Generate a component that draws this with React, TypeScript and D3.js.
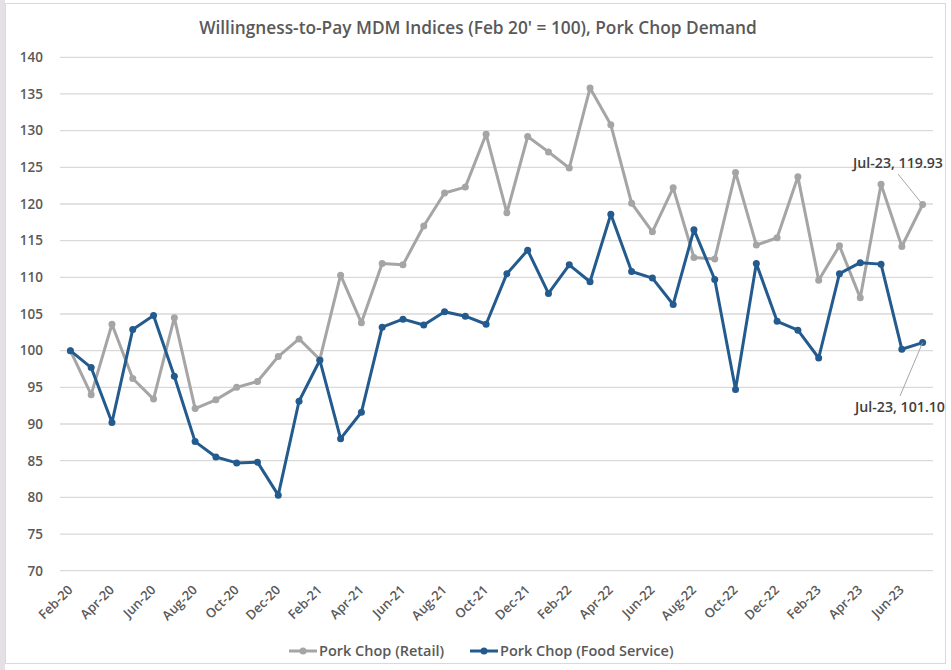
import React, { useEffect, useRef } from 'react';
import * as d3 from 'd3';

const months = [
  'Feb-20', 'Mar-20', 'Apr-20', 'May-20', 'Jun-20', 'Jul-20', 'Aug-20', 'Sep-20', 'Oct-20', 'Nov-20', 'Dec-20', 'Jan-21',
  'Feb-21', 'Mar-21', 'Apr-21', 'May-21', 'Jun-21', 'Jul-21', 'Aug-21', 'Sep-21', 'Oct-21', 'Nov-21', 'Dec-21', 'Jan-22',
  'Feb-22', 'Mar-22', 'Apr-22', 'May-22', 'Jun-22', 'Jul-22', 'Aug-22', 'Sep-22', 'Oct-22', 'Nov-22', 'Dec-22', 'Jan-23',
  'Feb-23', 'Mar-23', 'Apr-23', 'May-23', 'Jun-23', 'Jul-23',
];

const retail = [
  100, 94.0, 103.6, 96.2, 93.4, 104.5, 92.1, 93.3, 95.0, 95.8, 99.2, 101.6,
  98.8, 110.3, 103.8, 111.9, 111.7, 117.0, 121.5, 122.3, 129.5, 118.8, 129.2, 127.1,
  124.9, 135.8, 130.8, 120.1, 116.2, 122.2, 112.7, 112.5, 124.3, 114.4, 115.4, 123.7,
  109.6, 114.3, 107.2, 122.7, 114.2, 119.93,
];

const foodService = [
  100, 97.7, 90.2, 102.9, 104.8, 96.5, 87.6, 85.5, 84.7, 84.8, 80.3, 93.1,
  98.7, 88.0, 91.6, 103.2, 104.3, 103.5, 105.3, 104.7, 103.6, 110.5, 113.7, 107.8,
  111.7, 109.4, 118.6, 110.8, 109.9, 106.3, 116.5, 109.7, 94.7, 111.9, 104.0, 102.8,
  99.0, 110.5, 112.0, 111.8, 100.2, 101.1,
];

const yTicks = [70, 75, 80, 85, 90, 95, 100, 105, 110, 115, 120, 125, 130, 135, 140];

const seriesInfo = [
  { name: 'Pork Chop (Retail)', values: retail, color: '#a5a5a5' },
  { name: 'Pork Chop (Food Service)', values: foodService, color: '#235b8e' },
];

const W = 951;
const H = 670;
const font = "'Open Sans', sans-serif";
const textColor = '#595959';

export default function App() {
  const ref = useRef<SVGSVGElement>(null);

  useEffect(() => {
    const svg = d3.select(ref.current);
    svg.selectAll('*').remove();

    const left = 60;
    const right = 933;
    const x = d3.scaleBand<string>().domain(months).range([left, right]);
    const y = d3.scaleLinear().domain([70, 140]).range([570.7, 57.3]);
    const cx = (m: string) => (x(m) as number) + x.bandwidth() / 2;

    svg.append('rect').attr('x', 0).attr('y', 0).attr('width', W).attr('height', H).attr('fill', '#fff');
    svg.append('rect').attr('x', 0).attr('y', 0).attr('width', 5).attr('height', H).attr('fill', '#e4e0e6');
    svg.append('rect').attr('x', 5.5).attr('y', 3.5).attr('width', 940).attr('height', 660)
      .attr('fill', 'none').attr('stroke', '#d9d9d9');

    svg.append('text')
      .attr('x', 478).attr('y', 34)
      .attr('text-anchor', 'middle')
      .attr('font-family', font).attr('font-size', 17.3).attr('font-weight', 600)
      .attr('fill', textColor)
      .text("Willingness-to-Pay MDM Indices (Feb 20' = 100), Pork Chop Demand");

    // gridlines
    svg.append('g')
      .selectAll('line')
      .data(yTicks)
      .enter()
      .append('line')
      .attr('x1', left).attr('x2', right)
      .attr('y1', d => y(d)).attr('y2', d => y(d))
      .attr('stroke', '#d9d9d9').attr('stroke-width', 1.3);

    const yAxis = svg.append('g')
      .attr('transform', `translate(${left - 17}, 0)`)
      .call(d3.axisLeft(y).tickValues(yTicks).tickSize(0).tickPadding(0));
    yAxis.select('.domain').remove();
    yAxis.selectAll('text')
      .attr('font-family', font).attr('font-size', 13.5).attr('font-weight', 600)
      .attr('fill', textColor);

    const xAxis = svg.append('g')
      .attr('transform', `translate(0, ${y(70)})`)
      .call(d3.axisBottom(x).tickValues(months.filter((_, i) => i % 2 === 0)).tickSize(0).tickPadding(0));
    xAxis.select('.domain').remove();
    xAxis.selectAll('text')
      .attr('font-family', font).attr('font-size', 13).attr('font-weight', 600)
      .attr('fill', textColor)
      .attr('text-anchor', 'end')
      .attr('dy', 0)
      .attr('transform', 'translate(3, 20) rotate(-45)');

    const line = d3.line<number>()
      .x((_, i) => cx(months[i]))
      .y(d => y(d));

    seriesInfo.forEach(s => {
      const g = svg.append('g');
      g.append('path')
        .datum(s.values)
        .attr('d', line)
        .attr('fill', 'none')
        .attr('stroke', s.color)
        .attr('stroke-width', 3)
        .attr('stroke-linejoin', 'round');
      g.selectAll('circle')
        .data(s.values)
        .enter()
        .append('circle')
        .attr('cx', (_, i) => cx(months[i]))
        .attr('cy', d => y(d))
        .attr('r', 3.5)
        .attr('fill', s.color);
    });

    // end labels
    const last = months.length - 1;
    const lx = cx(months[last]);
    const labels = [
      { value: retail[last], tx: 898, ty: 168, lineFrom: [898, 174] },
      { value: foodService[last], tx: 900, ty: 412, lineFrom: [900, 396] },
    ];
    labels.forEach(l => {
      svg.append('line')
        .attr('x1', l.lineFrom[0]).attr('y1', l.lineFrom[1])
        .attr('x2', lx).attr('y2', y(l.value))
        .attr('stroke', '#a6a6a6').attr('stroke-width', 1);
      svg.append('text')
        .attr('x', l.tx).attr('y', l.ty)
        .attr('text-anchor', 'middle')
        .attr('font-family', font).attr('font-size', 14.2).attr('font-weight', 600)
        .attr('fill', '#404040')
        .text(`${months[last]}, ${l.value.toFixed(2)}`);
    });

    // legend
    const legendItems = [
      { ...seriesInfo[0], x: 289 },
      { ...seriesInfo[1], x: 470 },
    ];
    legendItems.forEach(item => {
      const g = svg.append('g').attr('transform', `translate(${item.x}, 651)`);
      g.append('line').attr('x1', 0).attr('x2', 28).attr('y1', 0).attr('y2', 0)
        .attr('stroke', item.color).attr('stroke-width', 3);
      g.append('circle').attr('cx', 14).attr('cy', 0).attr('r', 3.5).attr('fill', item.color);
      g.append('text').attr('x', 30).attr('y', 5)
        .attr('font-family', font).attr('font-size', 14.5).attr('font-weight', 600)
        .attr('fill', textColor)
        .text(item.name);
    });
  }, []);

  return (
    <svg
      ref={ref}
      width={W}
      height={H}
      style={{ position: 'absolute', left: 0, top: 0 }}
    />
  );
}
